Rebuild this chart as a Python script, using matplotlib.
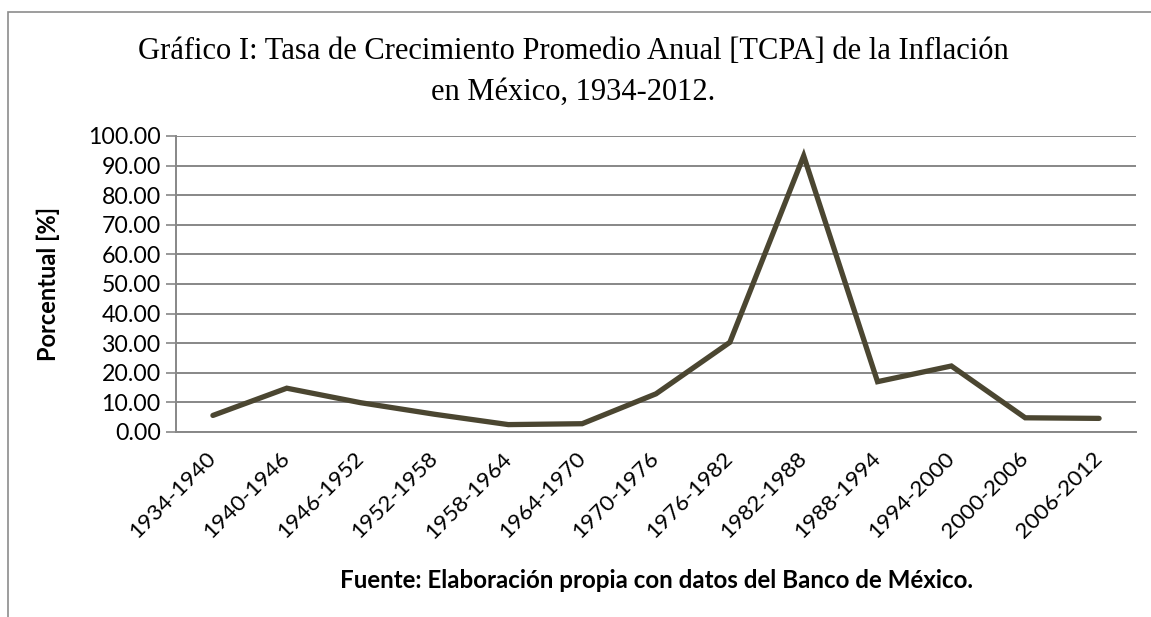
import numpy as np
import matplotlib
matplotlib.use("Agg")
import matplotlib.pyplot as plt
import matplotlib.transforms as mtransforms
from matplotlib.patches import Rectangle

periods = ["1934-1940", "1940-1946", "1946-1952", "1952-1958", "1958-1964",
           "1964-1970", "1970-1976", "1976-1982", "1982-1988", "1988-1994",
           "1994-2000", "2000-2006", "2006-2012"]
tcpa = [5.6, 14.8, 9.9, 6.0, 2.5, 2.8, 12.9, 30.3, 93.3, 17.0, 22.3, 4.8, 4.6]
yticks = np.arange(0, 101, 10)

W, H = 1151, 617
fig = plt.figure(figsize=(W / 100, H / 100), dpi=100)
ax = fig.add_axes([176 / W, 1 - 432 / H, 960 / W, 296 / H])

# outer frame (cut off right and bottom, like the source)
fig.patches.append(Rectangle((8 / W, -0.1), 1.2, 1 - 12 / H + 0.1,
                             transform=fig.transFigure, fill=False,
                             edgecolor="#8c8c8c", linewidth=1.2))

x = np.arange(len(periods))
ax.plot(x, tcpa, color="#4b4631", linewidth=3.8, solid_capstyle="round",
        solid_joinstyle="miter", zorder=3)

ax.set_xlim(-0.5, len(periods) - 0.5)
ax.set_ylim(0, 100)
ax.set_yticks(yticks)
ax.set_yticklabels([f"{v:.2f}" for v in yticks], fontfamily="Lato", fontsize=16.7)
ax.set_xticks(x)
ax.set_xticklabels(periods, rotation=45, ha="right", va="center",
                   rotation_mode="anchor", fontfamily="Lato", fontsize=16.2)
# nudge rotated labels a bit to the right
shift = mtransforms.ScaledTranslation(7 / 100, -1 / 100, fig.dpi_scale_trans)
for lbl in ax.get_xticklabels():
    lbl.set_transform(lbl.get_transform() + shift)
ax.tick_params(axis="x", length=0, pad=17)
ax.tick_params(axis="y", length=7, width=1.2, color="#878787", pad=4)
ax.grid(axis="y", color="#878787", linewidth=1.4, zorder=1)
for s in ["top", "right"]:
    ax.spines[s].set_visible(False)
for s in ["left", "bottom"]:
    ax.spines[s].set_color("#878787")
    ax.spines[s].set_linewidth(1.4)

ax.set_ylabel("Porcentual [%]", fontfamily="Lato", fontweight="bold",
              fontsize=17, labelpad=20)

fig.text(573 / W, 1 - 72 / H, "Gráfico I: Tasa de Crecimiento Promedio Anual [TCPA] de la Inflación\nen México, 1934-2012.",
         ha="center", va="center", fontfamily="Liberation Serif", fontsize=22,
         linespacing=1.55)
fig.text(656 / W, 1 - 580 / H, "Fuente: Elaboración propia con datos del Banco de México.",
         ha="center", va="center", fontfamily="Lato", fontweight="bold", fontsize=17.4)

fig.savefig("out.png", dpi=100)
